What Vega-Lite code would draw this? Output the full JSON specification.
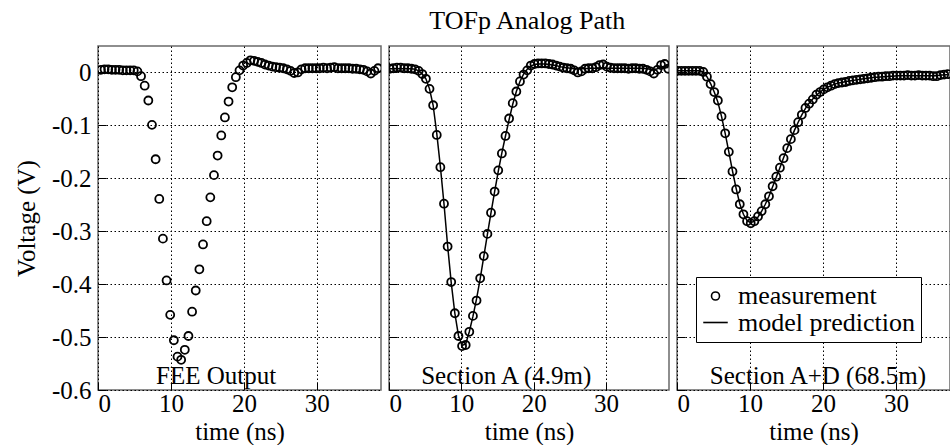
{
  "$schema": "https://vega.github.io/schema/vega-lite/v6.json",
  "padding": {"left": 13, "top": 8, "right": 0, "bottom": 0},
  "background": "white",
  "title": {"text": "TOFp Analog Path", "font": "Liberation Serif", "fontSize": 26, "fontWeight": "normal", "color": "black", "anchor": "middle", "dx": 45, "offset": 11},
  "bounds": "flush",
  "spacing": 8,
  "config": {
    "font": "Liberation Serif",
    "view": {"stroke": "#6a6a6a", "strokeWidth": 1.5},
    "axis": {
      "labelFont": "Liberation Serif", "labelFontSize": 25, "labelColor": "black",
      "titleFont": "Liberation Serif", "titleFontSize": 25, "titleFontWeight": "normal", "titleColor": "black",
      "grid": true, "gridColor": "black", "gridDash": [1.5, 2.5], "gridWidth": 1, "gridOpacity": 1,
      "domain": false, "ticks": true, "tickColor": "black", "tickSize": -8, "tickWidth": 1, "labelPadding": 15
    },
    "axisX": {"titlePadding": 3, "labelPadding": 9},
    "axisY": {"titlePadding": 12}
  },
  "datasets": {
    "fee": [
      {"t":0.4,"v":0.005},{"t":0.9,"v":0.006},{"t":1.4,"v":0.006},{"t":1.9,"v":0.005},{"t":2.4,"v":0.005},{"t":2.9,"v":0.005},{"t":3.4,"v":0.004},{"t":3.9,"v":0.004},{"t":4.4,"v":0.004},{"t":4.9,"v":0.004},{"t":5.4,"v":0.002},{"t":5.9,"v":-0.007},{"t":6.4,"v":-0.025},{"t":6.9,"v":-0.053},{"t":7.4,"v":-0.099},{"t":7.9,"v":-0.164},{"t":8.4,"v":-0.239},{"t":8.9,"v":-0.314},{"t":9.4,"v":-0.393},{"t":9.9,"v":-0.458},{"t":10.4,"v":-0.506},{"t":10.9,"v":-0.537},{"t":11.4,"v":-0.543},{"t":11.9,"v":-0.524},{"t":12.4,"v":-0.498},{"t":12.9,"v":-0.452},{"t":13.4,"v":-0.412},{"t":13.9,"v":-0.372},{"t":14.4,"v":-0.325},{"t":14.9,"v":-0.281},{"t":15.4,"v":-0.236},{"t":15.9,"v":-0.194},{"t":16.4,"v":-0.157},{"t":16.9,"v":-0.119},{"t":17.4,"v":-0.085},{"t":17.9,"v":-0.055},{"t":18.4,"v":-0.028},{"t":18.9,"v":-0.009},{"t":19.4,"v":0.004},{"t":19.9,"v":0.013},{"t":20.4,"v":0.018},{"t":20.9,"v":0.023},{"t":21.4,"v":0.022},{"t":21.9,"v":0.02},{"t":22.4,"v":0.018},{"t":22.9,"v":0.015},{"t":23.4,"v":0.013},{"t":23.9,"v":0.011},{"t":24.4,"v":0.01},{"t":24.9,"v":0.009},{"t":25.4,"v":0.008},{"t":25.9,"v":0.006},{"t":26.4,"v":0.003},{"t":26.9,"v":-0.001},{"t":27.4,"v":0.0},{"t":27.9,"v":0.006},{"t":28.4,"v":0.008},{"t":28.9,"v":0.008},{"t":29.4,"v":0.008},{"t":29.9,"v":0.008},{"t":30.4,"v":0.008},{"t":30.9,"v":0.009},{"t":31.4,"v":0.008},{"t":31.9,"v":0.009},{"t":32.4,"v":0.01},{"t":32.9,"v":0.008},{"t":33.4,"v":0.008},{"t":33.9,"v":0.008},{"t":34.4,"v":0.008},{"t":34.9,"v":0.007},{"t":35.4,"v":0.007},{"t":35.9,"v":0.006},{"t":36.4,"v":0.005},{"t":36.9,"v":0.002},{"t":37.4,"v":-0.002},{"t":37.9,"v":0.003},{"t":38.4,"v":0.008}
    ],
    "secA": [
      {"t":0.1,"v":0.007,"m":0.007},{"t":0.6,"v":0.008,"m":0.007},{"t":1.1,"v":0.009,"m":0.007},{"t":1.6,"v":0.009,"m":0.007},{"t":2.1,"v":0.008,"m":0.007},{"t":2.6,"v":0.008,"m":0.007},{"t":3.1,"v":0.007,"m":0.007},{"t":3.6,"v":0.006,"m":0.006},{"t":4.1,"v":0.003,"m":0.003},{"t":4.6,"v":-0.003,"m":-0.003},{"t":5.1,"v":-0.012,"m":-0.012},{"t":5.6,"v":-0.031,"m":-0.031},{"t":6.1,"v":-0.062,"m":-0.062},{"t":6.6,"v":-0.118,"m":-0.115},{"t":7.1,"v":-0.179,"m":-0.178},{"t":7.6,"v":-0.248,"m":-0.248},{"t":8.1,"v":-0.329,"m":-0.327},{"t":8.6,"v":-0.396,"m":-0.397},{"t":9.1,"v":-0.455,"m":-0.455},{"t":9.6,"v":-0.498,"m":-0.497},{"t":10.1,"v":-0.517,"m":-0.516},{"t":10.6,"v":-0.515,"m":-0.513},{"t":11.1,"v":-0.49,"m":-0.49},{"t":11.6,"v":-0.46,"m":-0.461},{"t":12.1,"v":-0.431,"m":-0.428},{"t":12.6,"v":-0.389,"m":-0.39},{"t":13.1,"v":-0.347,"m":-0.348},{"t":13.6,"v":-0.305,"m":-0.306},{"t":14.1,"v":-0.265,"m":-0.265},{"t":14.6,"v":-0.225,"m":-0.225},{"t":15.1,"v":-0.185,"m":-0.187},{"t":15.6,"v":-0.153,"m":-0.152},{"t":16.1,"v":-0.12,"m":-0.12},{"t":16.6,"v":-0.087,"m":-0.089},{"t":17.1,"v":-0.058,"m":-0.06},{"t":17.6,"v":-0.036,"m":-0.036},{"t":18.1,"v":-0.017,"m":-0.017},{"t":18.6,"v":-0.004,"m":-0.003},{"t":19.1,"v":0.004,"m":0.006},{"t":19.6,"v":0.013,"m":0.012},{"t":20.1,"v":0.016,"m":0.015},{"t":20.6,"v":0.017,"m":0.016},{"t":21.1,"v":0.017,"m":0.016},{"t":21.6,"v":0.017,"m":0.016},{"t":22.1,"v":0.016,"m":0.015},{"t":22.6,"v":0.015,"m":0.014},{"t":23.1,"v":0.013,"m":0.013},{"t":23.6,"v":0.011,"m":0.011},{"t":24.1,"v":0.009,"m":0.01},{"t":24.6,"v":0.008,"m":0.009},{"t":25.1,"v":0.007,"m":0.008},{"t":25.6,"v":0.004,"m":0.007},{"t":26.1,"v":0.0,"m":0.007},{"t":26.6,"v":0.002,"m":0.007},{"t":27.1,"v":0.007,"m":0.007},{"t":27.6,"v":0.008,"m":0.008},{"t":28.1,"v":0.008,"m":0.008},{"t":28.6,"v":0.01,"m":0.008},{"t":29.1,"v":0.014,"m":0.009},{"t":29.6,"v":0.015,"m":0.009},{"t":30.1,"v":0.011,"m":0.008},{"t":30.6,"v":0.009,"m":0.008},{"t":31.1,"v":0.008,"m":0.008},{"t":31.6,"v":0.008,"m":0.008},{"t":32.1,"v":0.008,"m":0.008},{"t":32.6,"v":0.008,"m":0.008},{"t":33.1,"v":0.007,"m":0.008},{"t":33.6,"v":0.008,"m":0.008},{"t":34.1,"v":0.008,"m":0.008},{"t":34.6,"v":0.007,"m":0.008},{"t":35.1,"v":0.007,"m":0.008},{"t":35.6,"v":0.005,"m":0.007},{"t":36.1,"v":0.002,"m":0.006},{"t":36.6,"v":-0.002,"m":0.005},{"t":37.1,"v":0.005,"m":0.007},{"t":37.6,"v":0.014,"m":0.01},{"t":38.1,"v":0.016,"m":0.012},{"t":38.6,"v":0.007,"m":0.009}
    ],
    "secAD": [
      {"t":0.1,"v":0.003,"m":0.003},{"t":0.6,"v":0.003,"m":0.003},{"t":1.1,"v":0.003,"m":0.003},{"t":1.6,"v":0.003,"m":0.003},{"t":2.1,"v":0.003,"m":0.003},{"t":2.6,"v":0.003,"m":0.003},{"t":3.1,"v":0.003,"m":0.003},{"t":3.6,"v":0.001,"m":0.001},{"t":4.1,"v":-0.008,"m":-0.008},{"t":4.6,"v":-0.022,"m":-0.021},{"t":5.1,"v":-0.037,"m":-0.037},{"t":5.6,"v":-0.053,"m":-0.056},{"t":6.1,"v":-0.083,"m":-0.083},{"t":6.6,"v":-0.115,"m":-0.115},{"t":7.1,"v":-0.15,"m":-0.15},{"t":7.6,"v":-0.187,"m":-0.186},{"t":8.1,"v":-0.221,"m":-0.219},{"t":8.6,"v":-0.249,"m":-0.248},{"t":9.1,"v":-0.268,"m":-0.268},{"t":9.6,"v":-0.281,"m":-0.28},{"t":10.1,"v":-0.285,"m":-0.284},{"t":10.6,"v":-0.281,"m":-0.281},{"t":11.1,"v":-0.272,"m":-0.273},{"t":11.6,"v":-0.262,"m":-0.262},{"t":12.1,"v":-0.249,"m":-0.249},{"t":12.6,"v":-0.234,"m":-0.234},{"t":13.1,"v":-0.215,"m":-0.216},{"t":13.6,"v":-0.197,"m":-0.198},{"t":14.1,"v":-0.18,"m":-0.18},{"t":14.6,"v":-0.162,"m":-0.161},{"t":15.1,"v":-0.143,"m":-0.143},{"t":15.6,"v":-0.126,"m":-0.126},{"t":16.1,"v":-0.109,"m":-0.109},{"t":16.6,"v":-0.094,"m":-0.094},{"t":17.1,"v":-0.08,"m":-0.08},{"t":17.6,"v":-0.067,"m":-0.068},{"t":18.1,"v":-0.059,"m":-0.058},{"t":18.6,"v":-0.051,"m":-0.05},{"t":19.1,"v":-0.042,"m":-0.043},{"t":19.6,"v":-0.037,"m":-0.037},{"t":20.1,"v":-0.032,"m":-0.032},{"t":20.6,"v":-0.028,"m":-0.028},{"t":21.1,"v":-0.025,"m":-0.025},{"t":21.6,"v":-0.022,"m":-0.022},{"t":22.1,"v":-0.02,"m":-0.02},{"t":22.6,"v":-0.019,"m":-0.019},{"t":23.1,"v":-0.018,"m":-0.017},{"t":23.6,"v":-0.016,"m":-0.016},{"t":24.1,"v":-0.015,"m":-0.015},{"t":24.6,"v":-0.014,"m":-0.014},{"t":25.1,"v":-0.013,"m":-0.013},{"t":25.6,"v":-0.012,"m":-0.012},{"t":26.1,"v":-0.011,"m":-0.011},{"t":26.6,"v":-0.01,"m":-0.01},{"t":27.1,"v":-0.009,"m":-0.009},{"t":27.6,"v":-0.008,"m":-0.009},{"t":28.1,"v":-0.008,"m":-0.008},{"t":28.6,"v":-0.007,"m":-0.008},{"t":29.1,"v":-0.007,"m":-0.007},{"t":29.6,"v":-0.006,"m":-0.007},{"t":30.1,"v":-0.006,"m":-0.006},{"t":30.6,"v":-0.006,"m":-0.006},{"t":31.1,"v":-0.006,"m":-0.006},{"t":31.6,"v":-0.005,"m":-0.006},{"t":32.1,"v":-0.006,"m":-0.006},{"t":32.6,"v":-0.006,"m":-0.006},{"t":33.1,"v":-0.005,"m":-0.006},{"t":33.6,"v":-0.006,"m":-0.006},{"t":34.1,"v":-0.006,"m":-0.006},{"t":34.6,"v":-0.006,"m":-0.006},{"t":35.1,"v":-0.007,"m":-0.006},{"t":35.6,"v":-0.007,"m":-0.006},{"t":36.1,"v":-0.005,"m":-0.005},{"t":36.6,"v":-0.004,"m":-0.005},{"t":37.1,"v":-0.003,"m":-0.004}
    ]
  },
  "hconcat": [
    {
      "width": 283, "height": 344,
      "layer": [
        {
          "data": {"name": "fee"},
          "mark": {"type": "point", "shape": "circle", "filled": false, "size": 64, "strokeWidth": 1.8, "color": "black", "opacity": 1, "clip": true},
          "encoding": {
            "x": {"field": "t", "type": "quantitative", "scale": {"domain": [0, 38.8], "nice": false, "zero": false}, "axis": {"title": "time (ns)", "values": [0, 10, 20, 30]}},
            "y": {"field": "v", "type": "quantitative", "scale": {"domain": [-0.6, 0.05], "nice": false, "zero": false}, "axis": {"title": "Voltage (V)", "values": [-0.6, -0.5, -0.4, -0.3, -0.2, -0.1, 0], "labelExpr": "datum.value === 0 ? '0' : '-0.' + round(-datum.value * 10)"}}
          }
        },
        {
          "data": {"values": [{"label": "FEE Output"}]},
          "mark": {"type": "text", "font": "Liberation Serif", "fontSize": 25, "baseline": "alphabetic", "align": "center", "color": "black"},
          "encoding": {"x": {"datum": 16.2}, "y": {"datum": -0.5886}, "text": {"field": "label"}}
        }
      ]
    },
    {
      "width": 280, "height": 344,
      "layer": [
        {
          "data": {"name": "secA"},
          "mark": {"type": "line", "color": "black", "strokeWidth": 1.5, "clip": true},
          "encoding": {
            "x": {"field": "t", "type": "quantitative", "scale": {"domain": [0, 38.7], "nice": false, "zero": false}, "axis": {"title": "time (ns)", "values": [0, 10, 20, 30]}},
            "y": {"field": "m", "type": "quantitative", "scale": {"domain": [-0.6, 0.05], "nice": false, "zero": false}, "axis": {"title": null, "labels": false, "values": [-0.6, -0.5, -0.4, -0.3, -0.2, -0.1, 0]}}
          }
        },
        {
          "data": {"name": "secA"},
          "mark": {"type": "point", "shape": "circle", "filled": false, "size": 64, "strokeWidth": 1.8, "color": "black", "opacity": 1, "clip": true},
          "encoding": {
            "x": {"field": "t", "type": "quantitative"},
            "y": {"field": "v", "type": "quantitative"}
          }
        },
        {
          "data": {"values": [{"label": "Section A (4.9m)"}]},
          "mark": {"type": "text", "font": "Liberation Serif", "fontSize": 25, "baseline": "alphabetic", "align": "center", "color": "black"},
          "encoding": {"x": {"datum": 16.2}, "y": {"datum": -0.5886}, "text": {"field": "label"}}
        }
      ]
    },
    {
      "width": 273, "height": 344,
      "layer": [
        {
          "data": {"name": "secAD"},
          "mark": {"type": "line", "color": "black", "strokeWidth": 1.5, "clip": true},
          "encoding": {
            "x": {"field": "t", "type": "quantitative", "scale": {"domain": [0, 37.4], "nice": false, "zero": false}, "axis": {"title": "time (ns)", "values": [0, 10, 20, 30]}},
            "y": {"field": "m", "type": "quantitative", "scale": {"domain": [-0.6, 0.05], "nice": false, "zero": false}, "axis": {"title": null, "labels": false, "values": [-0.6, -0.5, -0.4, -0.3, -0.2, -0.1, 0]}}
          }
        },
        {
          "data": {"name": "secAD"},
          "mark": {"type": "point", "filled": false, "strokeWidth": 1.8, "color": "black", "opacity": 1, "clip": true},
          "encoding": {
            "x": {"field": "t", "type": "quantitative"},
            "y": {"field": "v", "type": "quantitative"},
            "shape": {
              "datum": "measurement",
              "scale": {"domain": ["measurement", "model prediction"], "range": ["circle", "stroke"]},
              "legend": {
                "orient": "none", "legendX": 19, "legendY": 231, "title": null,
                "labelFont": "Liberation Serif", "labelFontSize": 26, "labelColor": "black", "labelOffset": 9, "labelLimit": 400,
                "symbolStrokeColor": "black", "symbolFillColor": "transparent", "symbolStrokeWidth": 1.6,
                "strokeColor": "black", "fillColor": "white", "padding": 6, "rowPadding": 0
              }
            },
            "size": {
              "datum": "measurement",
              "scale": {"type": "ordinal", "domain": ["measurement", "model prediction"], "range": [64, 600]},
              "legend": {
                "orient": "none", "legendX": 19, "legendY": 231, "title": null,
                "labelFont": "Liberation Serif", "labelFontSize": 26, "labelColor": "black", "labelOffset": 9, "labelLimit": 400,
                "symbolStrokeColor": "black", "symbolFillColor": "transparent", "symbolStrokeWidth": 1.6,
                "strokeColor": "black", "fillColor": "white", "padding": 6, "rowPadding": 0
              }
            }
          }
        },
        {
          "data": {"values": [{"label": "Section A+D (68.5m)"}]},
          "mark": {"type": "text", "font": "Liberation Serif", "fontSize": 25, "baseline": "alphabetic", "align": "center", "color": "black"},
          "encoding": {"x": {"datum": 19.3}, "y": {"datum": -0.5886}, "text": {"field": "label"}}
        }
      ],
      "resolve": {"scale": {"shape": "independent", "size": "independent"}}
    }
  ],
  "resolve": {"scale": {"shape": "independent", "size": "independent"}, "legend": {"shape": "independent", "size": "independent"}}
}
